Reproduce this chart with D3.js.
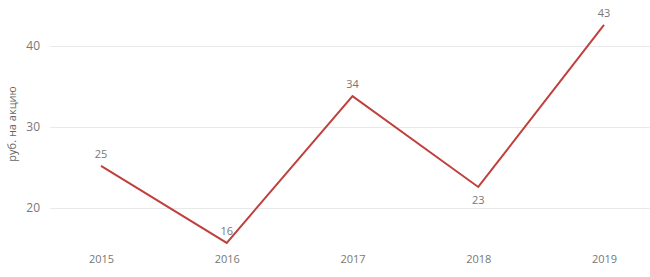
<!DOCTYPE html>
<html>
<head>
<meta charset="utf-8">
<script src="https://cdn.jsdelivr.net/npm/d3@7"></script>
<style>
  body { margin: 0; background: #fff; }
  text { font-family: "Segoe UI", "Open Sans", sans-serif; }
</style>
</head>
<body>
<div id="chart"></div>
<script>
const years = ['2015', '2016', '2017', '2018', '2019'];
const values = [25.2, 15.7, 33.8, 22.6, 42.6];
const labels = ['25', '16', '34', '23', '43'];
const labelPos = ['above', 'above', 'above', 'below', 'above'];
const yTicks = [20, 30, 40];

const width = 650;
const height = 277;

const svg = d3.select('#chart').append('svg')
  .attr('width', width)
  .attr('height', height);

const xScale = d3.scalePoint()
  .domain(years)
  .range([101, 604]);

const yScale = d3.scaleLinear()
  .domain([20, 40])
  .range([208, 46]);

// gridlines
const yAxis = d3.axisLeft(yScale)
  .tickValues(yTicks)
  .tickSize(-600)
  .tickPadding(10);
const yAxisG = svg.append('g')
  .attr('class', 'y-axis')
  .attr('transform', 'translate(50, 0)')
  .call(yAxis);
yAxisG.select('.domain').remove();
yAxisG.selectAll('line')
  .attr('stroke', '#e9e9e9')
  .attr('stroke-width', 1);
yAxisG.selectAll('text')
  .attr('fill', '#777')
  .attr('font-size', 12)
  .attr('font-family', '"Segoe UI", "Open Sans", sans-serif');

const xAxis = d3.axisBottom(xScale)
  .tickSize(0)
  .tickPadding(0);
const xAxisG = svg.append('g')
  .attr('class', 'x-axis')
  .attr('transform', 'translate(0, 255)')
  .call(xAxis);
xAxisG.select('.domain').remove();
xAxisG.selectAll('text')
  .attr('fill', '#777')
  .attr('font-size', 11)
  .attr('font-family', '"Segoe UI", "Open Sans", sans-serif');

svg.append('text')
  .attr('transform', `translate(16, 124) rotate(-90)`)
  .attr('text-anchor', 'middle')
  .attr('fill', '#666')
  .attr('font-size', 11)
  .text('руб. на акцию');

const data = years.map((y, i) => ({ year: y, value: values[i], label: labels[i], pos: labelPos[i] }));

const line = d3.line()
  .x(d => xScale(d.year))
  .y(d => yScale(d.value));

svg.append('path')
  .datum(data)
  .attr('fill', 'none')
  .attr('stroke', '#c0403e')
  .attr('stroke-width', 2)
  .attr('stroke-linejoin', 'miter')
  .attr('d', line);

svg.selectAll('.data-label').data(data)
  .enter().append('text')
    .attr('class', 'data-label')
    .attr('x', d => xScale(d.year))
    .attr('y', d => d.pos === 'above' ? yScale(d.value) - 8 : yScale(d.value) + 17)
    .attr('text-anchor', 'middle')
    .attr('fill', '#777')
    .attr('font-size', 11)
    .text(d => d.label);
</script>
</body>
</html>
